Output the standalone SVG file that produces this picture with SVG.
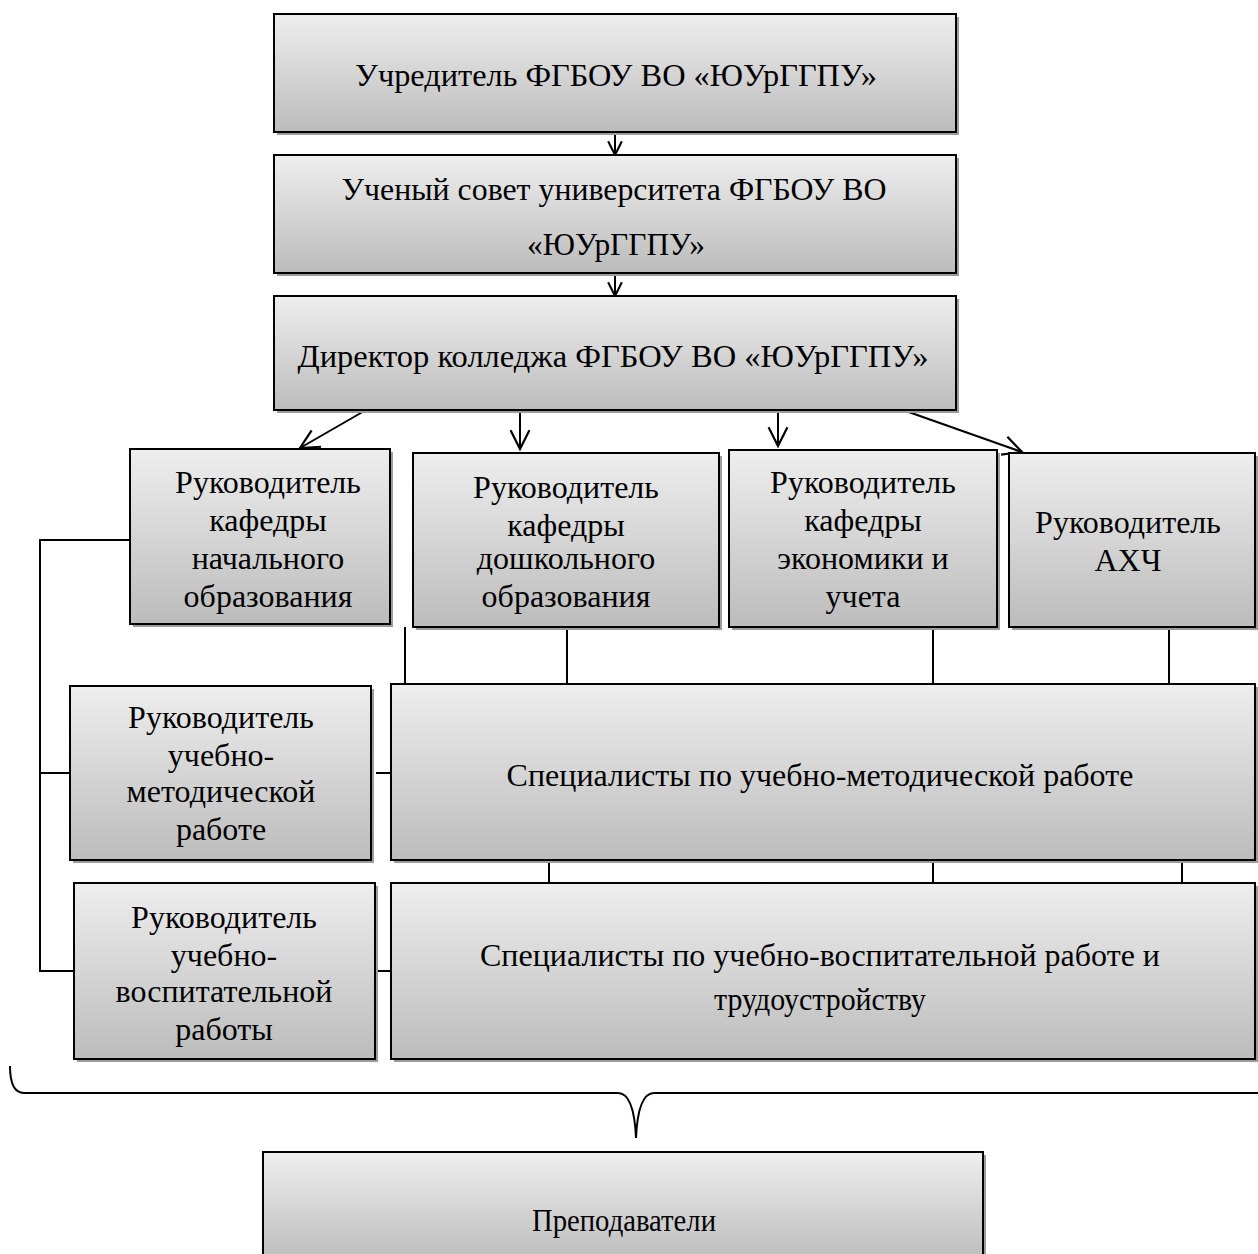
<svg xmlns="http://www.w3.org/2000/svg" width="1258" height="1254" viewBox="0 0 1258 1254">
<defs>
<linearGradient id="g" x1="0" y1="0" x2="0" y2="1">
<stop offset="0" stop-color="#eeeeee"/>
<stop offset="1" stop-color="#bcbcbc"/>
</linearGradient>
<marker id="arr" viewBox="0 0 14 14" refX="13" refY="7" markerWidth="16" markerHeight="16" markerUnits="userSpaceOnUse" orient="auto">
<path d="M1,1 L13,7 L1,13" fill="none" stroke="#000" stroke-width="1.8"/>
</marker>
<marker id="arr2" viewBox="0 0 14 14" refX="13" refY="7" markerWidth="22" markerHeight="22" markerUnits="userSpaceOnUse" orient="auto">
<path d="M1,1 L13,7 L1,13" fill="none" stroke="#000" stroke-width="1.4"/>
</marker>
</defs>
<style>
.sh{fill:#9c9c9c}
.bx{fill:url(#g);stroke:#000;stroke-width:2}
.t{font-family:"Liberation Serif","Times New Roman",serif;font-size:32px;fill:#000;text-anchor:middle}
.c{stroke:#000;stroke-width:2;fill:none}
</style>
<rect width="1258" height="1254" fill="#fff"/>
<g id="connectors">
<line class="c" x1="615" y1="132" x2="615" y2="155" marker-end="url(#arr)"/>
<line class="c" x1="615" y1="273" x2="615" y2="296" marker-end="url(#arr)"/>
<line class="c" x1="366" y1="410" x2="300" y2="448" marker-end="url(#arr2)"/>
<line class="c" x1="520" y1="410" x2="520" y2="449" marker-end="url(#arr2)"/>
<line class="c" x1="778" y1="410" x2="778" y2="446" marker-end="url(#arr2)"/>
<line class="c" x1="903" y1="410" x2="1022" y2="452" marker-end="url(#arr2)"/>
<line class="c" x1="405" y1="627" x2="405" y2="684"/>
<line class="c" x1="567" y1="627" x2="567" y2="684"/>
<line class="c" x1="933" y1="627" x2="933" y2="684"/>
<line class="c" x1="1169" y1="627" x2="1169" y2="684"/>
<line class="c" x1="549" y1="860" x2="549" y2="883"/>
<line class="c" x1="933" y1="860" x2="933" y2="883"/>
<line class="c" x1="1182" y1="860" x2="1182" y2="883"/>
<polyline class="c" points="130,540 40,540 40,971 74,971"/>
<line class="c" x1="40" y1="773" x2="70" y2="773"/>
<line class="c" x1="376" y1="773" x2="391" y2="773"/>
<line class="c" x1="375" y1="971" x2="391" y2="971"/>
<path class="c" d="M10,1066 Q10,1093 24,1093 L618,1093 Q634,1093 636,1138 Q638,1093 654,1093 L1258,1093"/>
</g>
<g id="n1"><rect class="sh" x="277" y="17" width="682" height="118"/><rect class="bx" x="274" y="14" width="682" height="118"/><text class="t" x="616" y="86" font-size="34" textLength="522" lengthAdjust="spacingAndGlyphs">Учредитель ФГБОУ ВО «ЮУрГГПУ»</text></g>
<g id="n2"><rect class="sh" x="277" y="158" width="682" height="118"/><rect class="bx" x="274" y="155" width="682" height="118"/><text class="t" x="614" y="200" font-size="34" textLength="545" lengthAdjust="spacingAndGlyphs">Ученый совет университета ФГБОУ ВО</text><text class="t" x="616" y="255" font-size="34" textLength="178" lengthAdjust="spacingAndGlyphs">«ЮУрГГПУ»</text></g>
<g id="n3"><rect class="sh" x="277" y="299" width="682" height="114"/><rect class="bx" x="274" y="296" width="682" height="114"/><text class="t" x="613" y="367" font-size="34" textLength="631" lengthAdjust="spacingAndGlyphs">Директор колледжа ФГБОУ ВО «ЮУрГГПУ»</text></g>
<g id="n4"><rect class="sh" x="133" y="452" width="260" height="175"/><rect class="bx" x="130" y="449" width="260" height="175"/><text class="t" x="268" y="493">Руководитель</text><text class="t" x="268" y="531">кафедры</text><text class="t" x="268" y="569">начального</text><text class="t" x="268" y="607">образования</text></g>
<g id="n5"><rect class="sh" x="416" y="456" width="306" height="174"/><rect class="bx" x="413" y="453" width="306" height="174"/><text class="t" x="566" y="498">Руководитель</text><text class="t" x="566" y="536">кафедры</text><text class="t" x="566" y="569">дошкольного</text><text class="t" x="566" y="607">образования</text></g>
<g id="n6"><rect class="sh" x="732" y="453" width="268" height="177"/><rect class="bx" x="729" y="450" width="268" height="177"/><text class="t" x="863" y="493">Руководитель</text><text class="t" x="863" y="531">кафедры</text><text class="t" x="863" y="569">экономики и</text><text class="t" x="863" y="607">учета</text></g>
<g id="n7"><rect class="sh" x="1012" y="456" width="247" height="174"/><rect class="bx" x="1009" y="453" width="246" height="174"/><text class="t" x="1128" y="533">Руководитель</text><text class="t" x="1128" y="571">АХЧ</text></g>
<g id="n8"><rect class="sh" x="73" y="689" width="301" height="174"/><rect class="bx" x="70" y="686" width="301" height="174"/><text class="t" x="221" y="728">Руководитель</text><text class="t" x="221" y="766">учебно-</text><text class="t" x="221" y="802">методической</text><text class="t" x="221" y="840">работе</text></g>
<g id="n9"><rect class="sh" x="394" y="687" width="864" height="176"/><rect class="bx" x="391" y="684" width="864" height="176"/><text class="t" x="820" y="786">Специалисты по учебно-методической работе</text></g>
<g id="n10"><rect class="sh" x="77" y="886" width="301" height="176"/><rect class="bx" x="74" y="883" width="301" height="176"/><text class="t" x="224" y="928">Руководитель</text><text class="t" x="224" y="966">учебно-</text><text class="t" x="224" y="1002">воспитательной</text><text class="t" x="224" y="1040">работы</text></g>
<g id="n11"><rect class="sh" x="394" y="886" width="864" height="176"/><rect class="bx" x="391" y="883" width="864" height="176"/><text class="t" x="820" y="966" font-size="34" textLength="680" lengthAdjust="spacingAndGlyphs">Специалисты по учебно-воспитательной работе и</text><text class="t" x="820" y="1010" font-size="34" textLength="212" lengthAdjust="spacingAndGlyphs">трудоустройству</text></g>
<g id="n12"><rect class="sh" x="266" y="1155" width="720" height="110"/><rect class="bx" x="263" y="1152" width="720" height="110"/><text class="t" x="624" y="1231" font-size="28" textLength="184" lengthAdjust="spacingAndGlyphs">Преподаватели</text></g>
</svg>
